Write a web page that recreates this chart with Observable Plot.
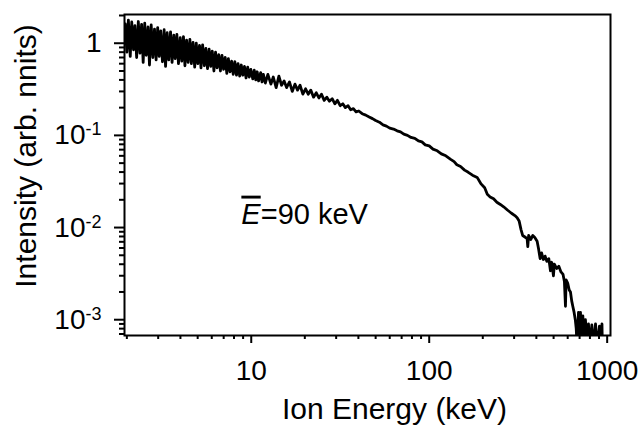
<!DOCTYPE html>
<html><head><meta charset="utf-8">
<script src="https://cdn.jsdelivr.net/npm/d3@7"></script>
<script src="https://cdn.jsdelivr.net/npm/@observablehq/plot@0.6"></script>
<style>body{margin:0;background:#fff;} svg{display:block;}</style>
</head><body><div id="chart"></div>
<script>
// Noisy low-energy part (values alternate between the upper and lower edge of the band)
const lowEnergy = [1.96,2.00,2.04,2.09,2.13,2.18,2.22,2.27,2.32,2.37,
2.42,2.47,2.52,2.57,2.63,2.68,2.74,2.80,2.86,2.92,
2.98,3.04,3.10,3.17,3.24,3.30,3.37,3.44,3.52,3.59,
3.67,3.74,3.82,3.90,3.99,4.07,4.16,4.24,4.33,4.42,
4.52,4.61,4.71,4.81,4.91,5.01,5.12,5.22,5.33,5.45,
5.56,5.68,5.80,5.92,6.04,6.17,6.30,6.43,6.57,6.71,
6.85,6.99,7.14,7.29,7.44,7.60,7.76,7.92,8.09,8.26,
8.43,8.61,8.79,8.97,9.16,9.35,9.55,9.75,9.95,10.2,
10.4,10.6,10.8,11.0,11.3,11.5,11.7,12.0];
const lowIntensity = [1.62,0.80,1.78,0.72,1.70,0.85,1.55,0.70,1.72,0.78,
1.60,0.62,1.65,0.74,1.50,0.58,1.58,0.70,1.42,0.66,
1.48,0.72,1.36,0.63,1.40,0.56,1.30,0.66,1.33,0.62,
1.22,0.68,1.25,0.60,1.15,0.64,1.18,0.57,1.08,0.62,
1.10,0.60,1.02,0.55,1.00,0.60,0.95,0.54,0.96,0.57,
0.88,0.53,0.86,0.56,0.82,0.50,0.80,0.54,0.75,0.50,
0.74,0.52,0.70,0.47,0.68,0.49,0.64,0.46,0.63,0.45,
0.60,0.44,0.58,0.45,0.56,0.42,0.55,0.43,0.52,0.41,
0.51,0.40,0.49,0.39,0.48,0.38,0.46,0.37];
const slopeEnergy = [12.4,12.9,13.3,13.8,14.3,14.8,15.3,15.8,16.4,17.0,
17.6,18.2,18.8,19.5,20.2,20.9,21.6,22.4,23.2,24.0,
24.8,25.7,26.6,27.5,28.5,29.5,30.5,31.6,32.7,33.8,
35.0,36.2,37.5,38.8,40.2];
const slopeIntensity = [0.46,0.36,0.43,0.33,0.44,0.35,0.39,0.33,0.38,0.30,
0.36,0.31,0.35,0.28,0.32,0.28,0.31,0.26,0.29,0.255,
0.28,0.24,0.26,0.235,0.25,0.22,0.24,0.21,0.22,0.20,
0.21,0.19,0.195,0.18,0.184];
const kneeEnergy = [42,44,46,48,50,52.5,55,57.5,60,63,66,69,72,75.5,79,83,87,91,95,100,
105,111,117,124,132,138,143,150,158,165,175,186,195,205,212];
const kneeIntensity = [0.172,0.166,0.158,0.152,0.145,0.139,0.130,0.126,0.120,0.117,
0.112,0.109,0.103,0.100,0.095,0.093,0.087,0.085,0.079,0.077,
0.071,0.068,0.063,0.060,0.055,0.052,0.048,0.046,0.042,0.040,
0.037,0.035,0.030,0.027,0.023];
const tailEnergy = [220,230,240,251,262,275,290,303,312,320,
328,335,345,355,358,362,372,382,392,404,
412,420,428,438,448,458,470,480,488,499,
505,520,535,550,565,575,583,588,600,612,
622,632,641,652,662,670,678,690,698,708,
718,730,742,755,770,785,800,820,840,860,
880,905,920,935,940];
const tailIntensity = [0.0215,0.0205,0.0188,0.0178,0.0168,0.0155,0.0143,0.0135,0.0128,0.0118,
0.0095,0.0082,0.0079,0.0076,0.0062,0.0082,0.0074,0.0082,0.0078,0.0071,
0.0058,0.0046,0.0053,0.0045,0.0049,0.0043,0.0046,0.0034,0.0042,0.0030,
0.0040,0.0036,0.0038,0.0033,0.0031,0.0026,0.0014,0.0027,0.0025,0.0021,
0.0020,0.0016,0.0014,0.0012,0.0010,0.0008,0.0005,0.0012,0.0005,0.0012,
0.0005,0.0011,0.0005,0.0010,0.0005,0.0009,0.0005,0.00088,0.0005,0.0009,
0.0005,0.00085,0.0005,0.0009,0.0005];

const xMajorTicks = [10, 100, 1000];
const xTickLabels = ["10", "100", "1000"];
const xMinorTicks = [2,3,4,5,6,7,8,9,20,30,40,50,60,70,80,90,200,300,400,500,600,700,800,900];
const yMajorTicks = [1, 0.1, 0.01, 0.001];
const yTickLabels = ["1", "10^-1", "10^-2", "10^-3"];
const yMinorTicks = [0.0007,0.0008,0.0009,0.002,0.003,0.004,0.005,0.006,0.007,0.008,0.009,
0.02,0.03,0.04,0.05,0.06,0.07,0.08,0.09,0.2,0.3,0.4,0.5,0.6,0.7,0.8,0.9,2];
const xTitle = "Ion Energy (keV)";
const yTitle = "Intensity (arb. nnits)";
const annotationText = "E=90 keV";
const annotationE = 8.8, annotationI = 0.0139;

const energyKeV = [...lowEnergy, ...slopeEnergy, ...kneeEnergy, ...tailEnergy];
const intensity = [...lowIntensity, ...slopeIntensity, ...kneeIntensity, ...tailIntensity];
const data = energyKeV.map((e, i) => ({e, v: intensity[i]}));

const font = "'Liberation Sans', Arial, sans-serif";
const chart = Plot.plot({
  width: 644, height: 430,
  marginLeft: 124, marginRight: 34, marginTop: 14, marginBottom: 95,
  style: {fontFamily: font, background: "white", color: "black", overflow: "visible"},
  x: {type: "log", domain: [1.94, 1044]},
  y: {type: "log", domain: [6.74e-4, 2.05]},
  marks: [
    Plot.line(data, {x: "e", y: "v", stroke: "black", strokeWidth: 2.8, clip: true}),
    Plot.frame({stroke: "black", strokeWidth: 2}),
    Plot.axisX({ticks: xMinorTicks, tickSize: 4, tickFormat: () => "", strokeWidth: 2, label: null}),
    Plot.axisX({ticks: xMajorTicks, tickSize: 8, tickPadding: 17, fontSize: 28,
      tickFormat: d => xTickLabels[xMajorTicks.indexOf(d)], strokeWidth: 2, label: null}),
    Plot.axisY({ticks: yMinorTicks, tickSize: 5, tickFormat: () => "", strokeWidth: 2, label: null}),
    Plot.axisY({ticks: yMajorTicks, tickSize: 10, tickPadding: 13, fontSize: 28,
      tickFormat: d => yTickLabels[yMajorTicks.indexOf(d)], strokeWidth: 2, label: null}),
    Plot.text([xTitle], {frameAnchor: "bottom", textAnchor: "middle", lineAnchor: "middle",
      dx: 27, dy: 74, fontSize: 30, text: d => d}),
    Plot.text([yTitle], {frameAnchor: "left", textAnchor: "middle", lineAnchor: "middle",
      rotate: -90, dx: -98, dy: -19, fontSize: 30, text: d => d}),
    Plot.text([{E: annotationE, I: annotationI, label: annotationText}],
      {x: "E", y: "I", text: "label", textAnchor: "start", fontSize: 29})
  ]
});
document.getElementById("chart").append(chart);

const ns = "http://www.w3.org/2000/svg";
chart.querySelectorAll("text").forEach(t => {
  const s = t.textContent;
  if (s.includes("^")) {
    const [base, exp] = s.split("^");
    t.textContent = "";
    const a = document.createElementNS(ns, "tspan"); a.textContent = base;
    const b = document.createElementNS(ns, "tspan"); b.textContent = exp;
    b.setAttribute("dy", "-9"); b.setAttribute("font-size", "18");
    t.append(a, b);
  } else if (s === annotationText) {
    t.textContent = "";
    const a = document.createElementNS(ns, "tspan"); a.textContent = "E";
    a.setAttribute("font-style", "italic"); a.setAttribute("text-decoration", "overline");
    const b = document.createElementNS(ns, "tspan"); b.textContent = "=90 keV";
    t.append(a, b);
  }
});
</script></body></html>
